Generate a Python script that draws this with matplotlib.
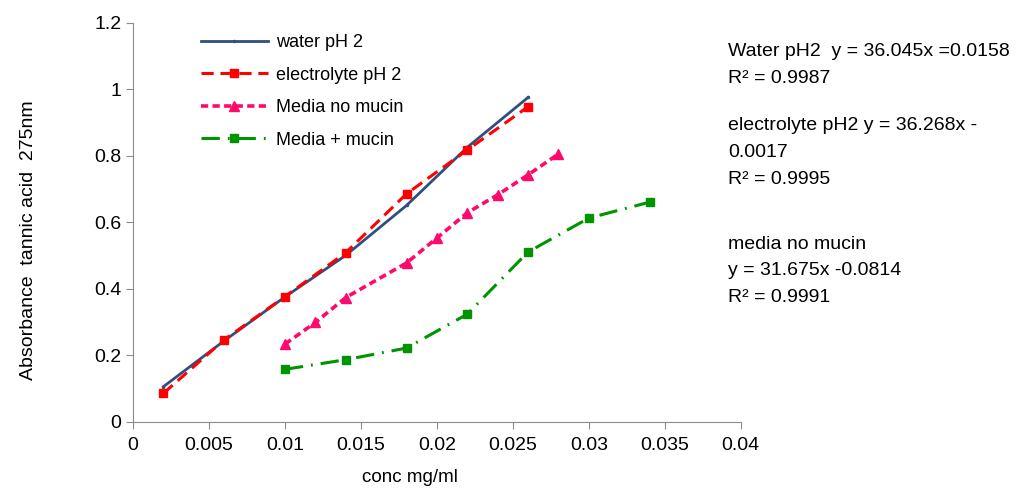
import numpy as np
import matplotlib.pyplot as plt

plt.rcParams['font.family'] = ['Liberation Sans', 'DejaVu Sans']

# absorbance at 275 nm vs tannic acid concentration
x_water = [0.002, 0.006, 0.010, 0.014, 0.018, 0.022, 0.026]
y_water = [0.105, 0.243, 0.375, 0.500, 0.650, 0.825, 0.975]

x_elec = [0.002, 0.006, 0.010, 0.014, 0.018, 0.022, 0.026]
y_elec = [0.085, 0.246, 0.376, 0.508, 0.685, 0.817, 0.947]

x_media = [0.010, 0.012, 0.014, 0.018, 0.020, 0.022, 0.024, 0.026, 0.028]
y_media = [0.233, 0.298, 0.373, 0.477, 0.552, 0.628, 0.682, 0.742, 0.805]

x_mucin = [0.010, 0.014, 0.018, 0.022, 0.026, 0.030, 0.034]
y_mucin = [0.157, 0.186, 0.221, 0.323, 0.510, 0.612, 0.660]

fits = [
    'Water pH2  y = 36.045x =0.0158\nR² = 0.9987',
    'electrolyte pH2 y = 36.268x -\n0.0017\nR² = 0.9995',
    'media no mucin\ny = 31.675x -0.0814\nR² = 0.9991',
]

fig = plt.figure(figsize=(10.16, 4.93), dpi=100)
ax = fig.add_axes([0.131, 0.145, 0.598, 0.809])

ax.plot(x_water, y_water, color='#2E4F7F', lw=2.0, marker='o', ms=1.5,
        label='water pH 2')
ax.plot(x_elec, y_elec, color='#FF0000', lw=2.2, ls=(0, (4, 2.2)),
        marker='s', ms=6, label='electrolyte pH 2')
ax.plot(x_media, y_media, color='#FF0A6C', lw=2.6, ls=(0, (2, 1.2)),
        marker='^', ms=6.5, label='Media no mucin')
ax.plot(x_mucin, y_mucin, color='#009400', lw=2.2, ls=(0, (6, 2.6, 0.6, 2.6)),
        marker='s', ms=5.5, label='Media + mucin')

ax.set_xlim(0, 0.04)
ax.set_ylim(0, 1.2)
ax.set_xticks(np.arange(0, 0.0401, 0.005))
ax.set_xticklabels(['0', '0.005', '0.01', '0.015', '0.02', '0.025', '0.03', '0.035', '0.04'])
ax.set_yticks(np.arange(0, 1.21, 0.2))
ax.set_yticklabels(['0', '0.2', '0.4', '0.6', '0.8', '1', '1.2'])

for s in ['top', 'right']:
    ax.spines[s].set_visible(False)
for s in ['left', 'bottom']:
    ax.spines[s].set_color('#8C8C8C')
ax.tick_params(colors='#8C8C8C', labelcolor='black', labelsize=14, length=5,
               direction='out')
ax.tick_params(axis='x', pad=6)

ax.set_xlabel('conc mg/ml', fontsize=13.5)
ax.xaxis.set_label_coords(0.456, -0.12)
ax.set_ylabel('Absorbance  tannic acid  275nm', fontsize=14)
ax.yaxis.set_label_coords(-0.158, 0.455)

ax.legend(loc='upper left', bbox_to_anchor=(0.085, 1.012), frameon=False,
          fontsize=13, handlelength=3.7, labelspacing=0.86, handletextpad=0.45)

fig.text(0.717, 0.912, fits[0], fontsize=14, va='top', linespacing=1.75)
fig.text(0.717, 0.762, fits[1], fontsize=14, va='top', linespacing=1.75)
fig.text(0.717, 0.522, fits[2], fontsize=14, va='top', linespacing=1.75)

fig.savefig('out.png', dpi=100)
